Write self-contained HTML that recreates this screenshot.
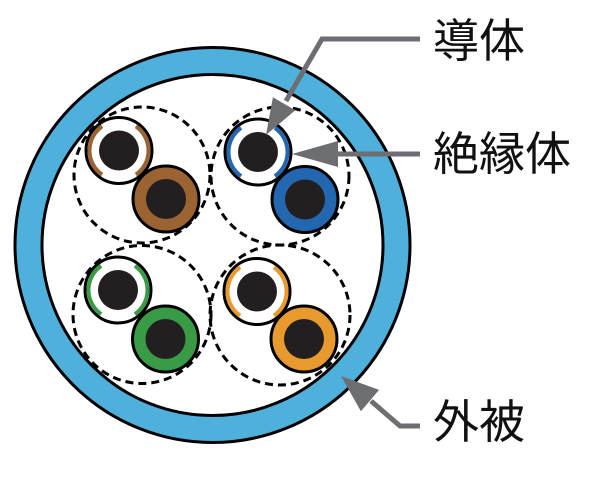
<!DOCTYPE html>
<html><head><meta charset="utf-8"><style>
html,body{margin:0;padding:0;background:#fff;}
svg{display:block;}
text{font-family:"Liberation Sans","Noto Sans CJK JP",sans-serif;font-size:46px;fill:#111;}
</style></head><body>
<svg width="612" height="480" viewBox="0 0 612 480" xmlns="http://www.w3.org/2000/svg">
<!-- jacket -->
<circle cx="212.5" cy="245" r="197.5" fill="#4fb0dc" stroke="#000" stroke-width="3"/>
<circle cx="212.5" cy="245" r="170.5" fill="#fff" stroke="#000" stroke-width="3"/>

<!-- dashed pair circles -->
<g fill="none" stroke="#000" stroke-width="3" stroke-dasharray="8 5">
<circle cx="142" cy="175" r="68"/>
<circle cx="280" cy="176" r="69"/>
<circle cx="142" cy="314.5" r="69"/>
<circle cx="280" cy="315" r="70"/>
</g>

<!-- top-left pair: brown -->
<g transform="translate(119,150.5)">
<circle r="33" fill="#fff" stroke="#000" stroke-width="3"/>
<path d="M-16.9,-24.2 A29.5,29.5 0 0 0 -16.9,24.2 M16.9,-24.2 A29.5,29.5 0 0 1 16.9,24.2" fill="none" stroke="#9a6331" stroke-width="4"/>
<circle r="20" fill="#231f20"/>
</g>
<g transform="translate(166,199)">
<circle r="33" fill="#9a6331" stroke="#000" stroke-width="3"/>
<circle r="20" fill="#231f20"/>
</g>

<!-- top-right pair: blue -->
<g transform="translate(258,152)">
<circle r="33" fill="#fff" stroke="#000" stroke-width="3"/>
<path d="M-16.9,-24.2 A29.5,29.5 0 0 0 -16.9,24.2 M16.9,-24.2 A29.5,29.5 0 0 1 16.9,24.2" fill="none" stroke="#2367b1" stroke-width="4"/>
<circle r="20" fill="#231f20"/>
</g>
<g transform="translate(305,199.5)">
<circle r="33" fill="#2367b1" stroke="#000" stroke-width="3"/>
<circle r="20" fill="#231f20"/>
</g>

<!-- bottom-left pair: green -->
<g transform="translate(118,290)">
<circle r="33" fill="#fff" stroke="#000" stroke-width="3"/>
<path d="M-16.9,-24.2 A29.5,29.5 0 0 0 -16.9,24.2 M16.9,-24.2 A29.5,29.5 0 0 1 16.9,24.2" fill="none" stroke="#3a9b47" stroke-width="4"/>
<circle r="20" fill="#231f20"/>
</g>
<g transform="translate(165.5,339)">
<circle r="33" fill="#3a9b47" stroke="#000" stroke-width="3"/>
<circle r="20" fill="#231f20"/>
</g>

<!-- bottom-right pair: orange -->
<g transform="translate(257,291.5)">
<circle r="33" fill="#fff" stroke="#000" stroke-width="3"/>
<path d="M-16.9,-24.2 A29.5,29.5 0 0 0 -16.9,24.2 M16.9,-24.2 A29.5,29.5 0 0 1 16.9,24.2" fill="none" stroke="#e89a2e" stroke-width="4"/>
<circle r="20" fill="#231f20"/>
</g>
<g transform="translate(304,339)">
<circle r="33" fill="#e89a2e" stroke="#000" stroke-width="3"/>
<circle r="20" fill="#231f20"/>
</g>

<!-- arrows -->
<g fill="#6d6e71" stroke="none">
<polyline points="420,39 322,39 286,101" fill="none" stroke="#6d6e71" stroke-width="5"/>
<polygon points="266,135 295.3,110.3 272.9,97.3"/>
<line x1="420" y1="154" x2="334" y2="154" stroke="#6d6e71" stroke-width="5"/>
<polygon points="292,154 338,141 338,167"/>
<polyline points="420,426 400,426 371,401" fill="none" stroke="#6d6e71" stroke-width="5"/>
<polygon points="341,376 379.1,389.9 360.9,411.3"/>
</g>

<!-- labels -->
<text x="433" y="57">導体</text>
<text x="433" y="170">絶縁体</text>
<text x="433" y="438">外被</text>
</svg>
</body></html>
